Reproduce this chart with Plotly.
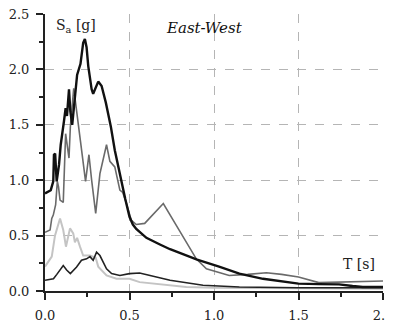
import plotly.graph_objects as go

# Thick black series
t_black = [0, 0.034, 0.049, 0.053, 0.06, 0.069, 0.083, 0.093, 0.112, 0.122, 0.13, 0.142, 0.15, 0.161,
           0.19, 0.21, 0.226, 0.236, 0.246, 0.256, 0.276, 0.285, 0.315, 0.335, 0.36, 0.39, 0.413, 0.433,
           0.453, 0.475, 0.5, 0.52, 0.54, 0.6, 0.68, 0.74, 0.82, 0.9, 1.03, 1.15, 1.29, 1.4, 1.5, 1.62,
           1.74, 1.82, 1.88, 2.0]
sa_black = [0.88, 0.91, 0.99, 1.23, 1.24, 0.99, 1.14, 1.32, 1.53, 1.65, 1.58, 1.82, 1.62, 1.50,
            1.95, 2.05, 2.24, 2.275, 2.2, 2.03, 1.82, 1.78, 1.89, 1.85, 1.7, 1.48, 1.27, 1.12,
            1.0, 0.83, 0.67, 0.6, 0.56, 0.48, 0.42, 0.377, 0.33, 0.284, 0.22, 0.157, 0.11, 0.085, 0.067, 0.062,
            0.06, 0.045, 0.036, 0.036]

# Dark grey series
t_grey = [0.0, 0.03, 0.04, 0.049, 0.063, 0.073, 0.08, 0.089, 0.108, 0.122, 0.142, 0.15, 0.17, 0.19,
          0.21, 0.24, 0.26, 0.276, 0.30, 0.325, 0.344, 0.364, 0.384, 0.413, 0.443, 0.46, 0.482, 0.51,
          0.54, 0.59, 0.70, 0.816, 0.895, 0.955, 1.09, 1.2, 1.31, 1.40, 1.5, 1.62, 1.75, 2.0]
sa_grey = [0.53, 0.55, 0.655, 0.685, 0.78, 0.99, 0.94, 0.82, 0.80, 1.42, 1.20, 1.48, 1.83, 1.56,
           1.35, 0.99, 1.23, 1.0, 0.70, 1.06, 1.2, 1.32, 1.17, 1.12, 0.91, 0.89, 0.79, 0.64,
           0.6, 0.61, 0.79, 0.49, 0.29, 0.20, 0.14, 0.15, 0.165, 0.15, 0.127, 0.076, 0.08, 0.09]

# Light grey series
t_light = [0, 0.04, 0.059, 0.089, 0.108, 0.124, 0.148, 0.167, 0.177, 0.19, 0.207, 0.226, 0.266, 0.3,
           0.315, 0.364, 0.423, 0.5, 0.56, 0.64, 0.836, 1.0, 1.5, 2.0]
sa_light = [0.22, 0.31, 0.5, 0.655, 0.55, 0.40, 0.565, 0.52, 0.44, 0.48, 0.40, 0.32, 0.32, 0.3,
            0.22, 0.14, 0.11, 0.11, 0.08, 0.067, 0.036, 0.03, 0.025, 0.02]

# Thin dark series
t_thin = [0, 0.05, 0.07, 0.108, 0.128, 0.15, 0.187, 0.216, 0.246, 0.266, 0.285, 0.305, 0.325, 0.364,
          0.394, 0.443, 0.5, 0.56, 0.74, 0.935, 1.15, 1.5, 2.0]
sa_thin = [0.097, 0.11, 0.15, 0.23, 0.19, 0.157, 0.217, 0.277, 0.29, 0.31, 0.277, 0.35, 0.32, 0.2,
           0.157, 0.14, 0.157, 0.163, 0.097, 0.052, 0.036, 0.03, 0.03]

x_ticks = [0.0, 0.5, 1.0, 1.5, 2.0]
y_ticks = [0.0, 0.5, 1.0, 1.5, 2.0, 2.5]

SERIF = '"DejaVu Serif", "Liberation Serif", "Times New Roman", Times, serif'

fig = go.Figure()
fig.add_trace(go.Scatter(x=t_light, y=sa_light, mode="lines",
                         line=dict(color="#c4c4c4", width=2), showlegend=False))
fig.add_trace(go.Scatter(x=t_grey, y=sa_grey, mode="lines",
                         line=dict(color="#6a6a6a", width=1.6), showlegend=False))
fig.add_trace(go.Scatter(x=t_thin, y=sa_thin, mode="lines",
                         line=dict(color="#222222", width=1.6), showlegend=False))
fig.add_trace(go.Scatter(x=t_black, y=sa_black, mode="lines",
                         line=dict(color="#111111", width=2.4), showlegend=False))

axis_common = dict(
    showline=True, linecolor="#222", linewidth=2,
    ticks="outside", ticklen=7, tickwidth=1.5, tickcolor="#222",
    minor=dict(ticks="outside", dtick=0.25, ticklen=4, tickwidth=1.5, tickcolor="#222", showgrid=False),
    showgrid=True, gridcolor="#b5b5b5", griddash="dash", gridwidth=1,
    zeroline=False, automargin=False, ticklabeloverflow="allow",
    tickfont=dict(size=13, family=SERIF, color="#222"),
)

# page body adds an 8px offset; figure sized to fit the window and margins placed to match
fig.update_layout(
    width=385, height=314,
    margin=dict(l=37, r=10, t=6, b=31),
    paper_bgcolor="white", plot_bgcolor="white",
    font=dict(family=SERIF, size=13, color="#222"),
    xaxis=dict(range=[0, 2.0], tickvals=x_ticks, ticktext=[f"{v:.1f}" for v in x_ticks],
               ticklabelstandoff=4, **axis_common),
    yaxis=dict(range=[0, 2.5], tickvals=y_ticks, ticktext=[f"{v:.1f}" for v in y_ticks],
               ticklabelstandoff=4, **axis_common),
    annotations=[
        dict(x=0.053, y=2.395, xref="x", yref="y", text="S<sub>a</sub> [g]", showarrow=False,
             xanchor="left", yanchor="middle", font=dict(size=14, family=SERIF, color="#222")),
        dict(x=0.944, y=2.37, xref="x", yref="y", text="<i>East-West</i>", showarrow=False,
             xanchor="center", yanchor="middle", font=dict(size=15, family=SERIF, color="#111")),
        dict(x=1.966, y=0.24, xref="x", yref="y", text="T [s]", showarrow=False,
             xanchor="right", yanchor="middle", font=dict(size=14, family=SERIF, color="#222")),
    ],
)

fig.write_html("out.html")
